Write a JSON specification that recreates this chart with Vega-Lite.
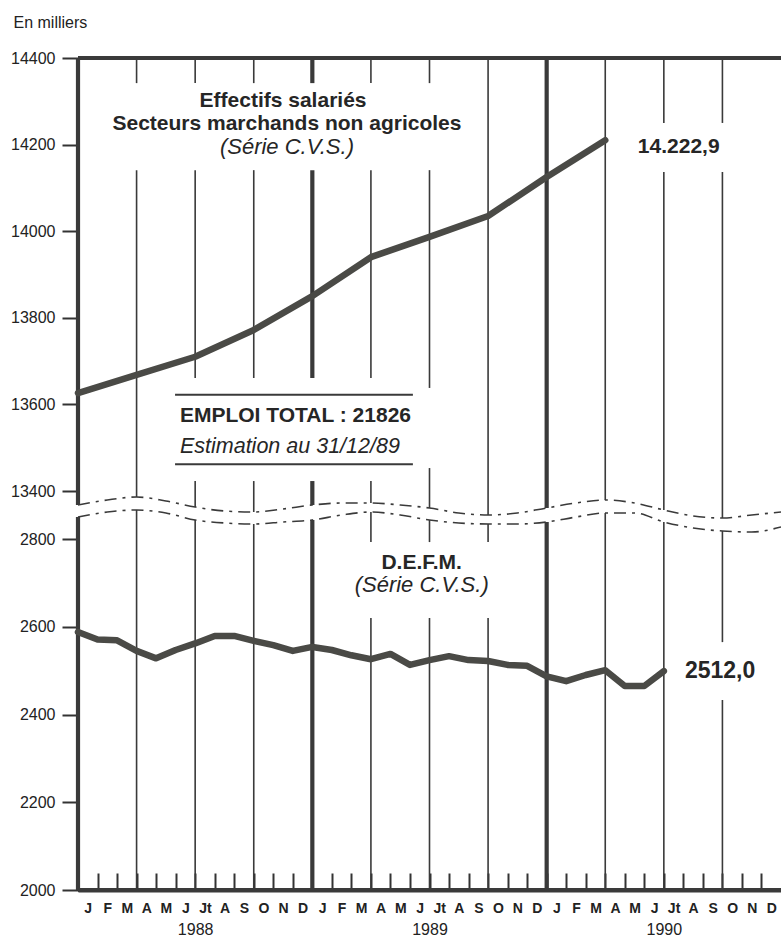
{
  "$schema": "https://vega.github.io/schema/vega-lite/v6.json",
  "width": 703,
  "height": 832,
  "autosize": {"type": "none"},
  "padding": {"left": 78, "top": 58, "right": 0, "bottom": 50},
  "background": "white",
  "config": {"view": {"stroke": null}, "font": "Liberation Sans"},
  "datasets": {
    "series": [
      {"s": "E", "m": 0, "v": 13626}, {"s": "E", "m": 3, "v": 13668}, {"s": "E", "m": 6, "v": 13710},
      {"s": "E", "m": 9, "v": 13772}, {"s": "E", "m": 12, "v": 13850}, {"s": "E", "m": 15, "v": 13940},
      {"s": "E", "m": 18, "v": 13987}, {"s": "E", "m": 21, "v": 14035}, {"s": "E", "m": 24, "v": 14125},
      {"s": "E", "m": 27, "v": 14210},
      {"s": "D", "m": 0, "v": 2588}, {"s": "D", "m": 1, "v": 2571}, {"s": "D", "m": 2, "v": 2569},
      {"s": "D", "m": 3, "v": 2545}, {"s": "D", "m": 4, "v": 2528}, {"s": "D", "m": 5, "v": 2547},
      {"s": "D", "m": 6, "v": 2562}, {"s": "D", "m": 7, "v": 2579}, {"s": "D", "m": 8, "v": 2579},
      {"s": "D", "m": 9, "v": 2568}, {"s": "D", "m": 10, "v": 2558}, {"s": "D", "m": 11, "v": 2545},
      {"s": "D", "m": 12, "v": 2554}, {"s": "D", "m": 13, "v": 2547}, {"s": "D", "m": 14, "v": 2535},
      {"s": "D", "m": 15, "v": 2526}, {"s": "D", "m": 16, "v": 2538}, {"s": "D", "m": 17, "v": 2513},
      {"s": "D", "m": 18, "v": 2524}, {"s": "D", "m": 19, "v": 2533}, {"s": "D", "m": 20, "v": 2524},
      {"s": "D", "m": 21, "v": 2522}, {"s": "D", "m": 22, "v": 2513}, {"s": "D", "m": 23, "v": 2511},
      {"s": "D", "m": 24, "v": 2487}, {"s": "D", "m": 25, "v": 2476}, {"s": "D", "m": 26, "v": 2490},
      {"s": "D", "m": 27, "v": 2501}, {"s": "D", "m": 28, "v": 2465}, {"s": "D", "m": 29, "v": 2465},
      {"s": "D", "m": 30, "v": 2499}
    ],
    "vlines": [
      {"m": 0, "v": 14400, "v2": 10308, "k": "y"}, {"m": 0, "v": 7658, "v2": 2000, "k": "y"},
      {"m": 3, "v": 14400, "v2": 14342, "k": "q"}, {"m": 3, "v": 14141, "v2": 12075, "k": "q"}, {"m": 3, "v": 9204, "v2": 2000, "k": "q"},
      {"m": 6, "v": 14400, "v2": 14342, "k": "q"}, {"m": 6, "v": 14141, "v2": 13661, "k": "q"}, {"m": 6, "v": 13423, "v2": 9867, "k": "q"}, {"m": 6, "v": 6996, "v2": 2000, "k": "q"},
      {"m": 9, "v": 14400, "v2": 14342, "k": "q"}, {"m": 9, "v": 14141, "v2": 13661, "k": "q"}, {"m": 9, "v": 13423, "v2": 8763, "k": "q"}, {"m": 9, "v": 6113, "v2": 2000, "k": "q"},
      {"m": 12, "v": 14400, "v2": 14342, "k": "y"}, {"m": 12, "v": 14141, "v2": 13661, "k": "y"}, {"m": 12, "v": 13423, "v2": 10308, "k": "y"}, {"m": 12, "v": 6996, "v2": 2000, "k": "y"},
      {"m": 15, "v": 14400, "v2": 14342, "k": "q"}, {"m": 15, "v": 14141, "v2": 13661, "k": "q"}, {"m": 15, "v": 13423, "v2": 10750, "k": "q"}, {"m": 15, "v": 8763, "v2": 2793, "k": "q"}, {"m": 15, "v": 2620, "v2": 2000, "k": "q"},
      {"m": 18, "v": 14400, "v2": 14342, "k": "q"}, {"m": 18, "v": 14141, "v2": 13638, "k": "q"}, {"m": 18, "v": 13453, "v2": 9646, "k": "q"}, {"m": 18, "v": 6996, "v2": 2793, "k": "q"}, {"m": 18, "v": 2620, "v2": 2000, "k": "q"},
      {"m": 21, "v": 14400, "v2": 8100, "k": "q"}, {"m": 21, "v": 6113, "v2": 2793, "k": "q"}, {"m": 21, "v": 2620, "v2": 2000, "k": "q"},
      {"m": 24, "v": 14400, "v2": 9646, "k": "y"}, {"m": 24, "v": 6554, "v2": 2000, "k": "y"},
      {"m": 27, "v": 14400, "v2": 11413, "k": "q"}, {"m": 27, "v": 8542, "v2": 2000, "k": "q"},
      {"m": 30, "v": 14400, "v2": 14250, "k": "q"}, {"m": 30, "v": 14137, "v2": 9204, "k": "q"}, {"m": 30, "v": 6554, "v2": 2000, "k": "q"},
      {"m": 33, "v": 14400, "v2": 14250, "k": "q"}, {"m": 33, "v": 14137, "v2": 7438, "k": "q"}, {"m": 33, "v": 4567, "v2": 2565, "k": "q"}, {"m": 33, "v": 2433, "v2": 2000, "k": "q"}
    ],
    "hrules": [
      {"v": 14400, "m": 0, "m2": 36, "k": "frame"}, {"v": 2000, "m": 0, "m2": 36, "k": "frame"},
      {"v": 13622, "m": 4.97, "m2": 17.15, "k": "box"}, {"v": 13462, "m": 4.97, "m2": 17.15, "k": "box"}
    ],
    "waves": [
      {"w": "u", "m": 0, "v": 10308}, {"w": "u", "m": 1.5, "v": 11413}, {"w": "u", "m": 3, "v": 12075}, {"w": "u", "m": 4.5, "v": 11192},
      {"w": "u", "m": 6, "v": 9867}, {"w": "u", "m": 7.5, "v": 8983}, {"w": "u", "m": 9, "v": 8763}, {"w": "u", "m": 10.5, "v": 9425},
      {"w": "u", "m": 12, "v": 10308}, {"w": "u", "m": 13.5, "v": 10750}, {"w": "u", "m": 15, "v": 10750}, {"w": "u", "m": 16.5, "v": 10308},
      {"w": "u", "m": 18, "v": 9646}, {"w": "u", "m": 19.5, "v": 8542}, {"w": "u", "m": 21, "v": 8100}, {"w": "u", "m": 22.5, "v": 8542},
      {"w": "u", "m": 24, "v": 9646}, {"w": "u", "m": 25.5, "v": 10750}, {"w": "u", "m": 27, "v": 11413}, {"w": "u", "m": 28.5, "v": 10750},
      {"w": "u", "m": 30, "v": 9204}, {"w": "u", "m": 31.5, "v": 7879}, {"w": "u", "m": 33, "v": 7438}, {"w": "u", "m": 34.5, "v": 8100},
      {"w": "u", "m": 36, "v": 8763},
      {"w": "l", "m": 0, "v": 7658}, {"w": "l", "m": 1.5, "v": 8763}, {"w": "l", "m": 3, "v": 9204}, {"w": "l", "m": 4.5, "v": 8542},
      {"w": "l", "m": 6, "v": 6996}, {"w": "l", "m": 7.5, "v": 6334}, {"w": "l", "m": 9, "v": 6113}, {"w": "l", "m": 10.5, "v": 6554},
      {"w": "l", "m": 12, "v": 6996}, {"w": "l", "m": 13.5, "v": 8100}, {"w": "l", "m": 15, "v": 8763}, {"w": "l", "m": 16.5, "v": 8100},
      {"w": "l", "m": 18, "v": 6996}, {"w": "l", "m": 19.5, "v": 6334}, {"w": "l", "m": 21, "v": 6113}, {"w": "l", "m": 22.5, "v": 6113},
      {"w": "l", "m": 24, "v": 6554}, {"w": "l", "m": 25.5, "v": 7658}, {"w": "l", "m": 27, "v": 8542}, {"w": "l", "m": 28.5, "v": 8542},
      {"w": "l", "m": 30, "v": 6554}, {"w": "l", "m": 31.5, "v": 5229}, {"w": "l", "m": 33, "v": 4567}, {"w": "l", "m": 34.5, "v": 4346},
      {"w": "l", "m": 36, "v": 5450}
    ],
    "labels": [
      {"k": "cb", "t": "Effectifs salariés", "m": 10.5, "v": 14287},
      {"k": "cb", "t": "Secteurs marchands non agricoles", "m": 10.7, "v": 14234},
      {"k": "ci", "t": "(Série C.V.S.)", "m": 10.7, "v": 14178},
      {"k": "lb", "t": "EMPLOI TOTAL : 21826", "m": 5.22, "v": 13560},
      {"k": "li", "t": "Estimation au 31/12/89", "m": 5.22, "v": 13488},
      {"k": "cb", "t": "D.E.F.M.", "m": 17.6, "v": 2731},
      {"k": "ci", "t": "(Série C.V.S.)", "m": 17.6, "v": 2679},
      {"k": "lb", "t": "14.222,9", "m": 28.67, "v": 14181},
      {"k": "lB", "t": "2512,0", "m": 31.08, "v": 2483}
    ]
  },
  "resolve": {"axis": {"x": "independent"}, "scale": {"strokeWidth": "independent"}},
  "encoding": {
    "x": {"field": "m", "type": "quantitative", "scale": {"domain": [0, 36], "nice": false, "zero": false}, "axis": null},
    "y": {"field": "v", "type": "quantitative",
      "scale": {"domain": [2000, 2800, 13400, 14400], "range": [832, 481, 433, 0], "nice": false, "zero": false},
      "axis": {"orient": "left", "values": [2000, 2200, 2400, 2600, 2800, 13400, 13600, 13800, 14000, 14200, 14400], "format": "d",
        "domain": false, "grid": false, "tickSize": 16, "tickWidth": 2, "tickColor": "#333",
        "labelFont": "Liberation Sans", "labelFontSize": 16, "labelColor": "#222", "labelPadding": 7, "labelOverlap": false,
        "title": "En milliers", "titleAngle": 0, "titleX": -65, "titleY": -31, "titleAlign": "left", "titleBaseline": "alphabetic",
        "titleFont": "Liberation Sans", "titleFontWeight": "normal", "titleFontSize": 16, "titleColor": "#222"}}
  },
  "layer": [
    {
      "data": {"name": "vlines"},
      "mark": {"type": "rule", "color": "#3a3a3a"},
      "encoding": {
        "x": {"field": "m", "type": "quantitative", "scale": {"domain": [0, 36], "nice": false, "zero": false},
          "axis": {"orient": "bottom", "values": [0,1,2,3,4,5,6,7,8,9,10,11,12,13,14,15,16,17,18,19,20,21,22,23,24,25,26,27,28,29,30,31,32,33,34,35],
            "labelExpr": "['J','F','M','A','M','J','Jt','A','S','O','N','D'][datum.value % 12]",
            "labelOffset": 9.76, "tickSize": -17, "tickWidth": 2, "tickColor": "#333",
            "domain": true, "domainWidth": 4, "domainColor": "#3a3a3a", "grid": false,
            "labelFont": "Liberation Sans", "labelFontWeight": "bold", "labelFontSize": 14, "labelColor": "#222",
            "labelPadding": 28, "labelFlush": false, "labelOverlap": false, "labelBound": false, "title": null}},
        "y2": {"field": "v2"},
        "strokeWidth": {"field": "k", "type": "nominal", "scale": {"domain": ["q", "y"], "range": [1.6, 4.2]}, "legend": null}
      }
    },
    {
      "data": {"name": "hrules"},
      "mark": {"type": "rule", "color": "#3a3a3a"},
      "encoding": {
        "x2": {"field": "m2"},
        "strokeWidth": {"field": "k", "type": "nominal", "scale": {"domain": ["box", "frame"], "range": [2, 4]}, "legend": null}
      }
    },
    {
      "data": {"name": "waves"},
      "mark": {"type": "line", "color": "#3a3a3a", "strokeWidth": 1.6, "strokeDash": [12, 6, 3, 6], "interpolate": "monotone"},
      "encoding": {
        "x": {"field": "m", "type": "quantitative",
          "axis": {"orient": "bottom", "values": [6, 18, 30], "labelExpr": "toString(1988 + floor(datum.value / 12))",
            "ticks": false, "domain": false, "grid": false, "labelFont": "Liberation Sans", "labelFontSize": 16, "labelColor": "#222",
            "labelPadding": 31, "labelFlush": false, "labelOverlap": false, "title": null}},
        "detail": {"field": "w"}
      }
    },
    {
      "data": {"name": "series"},
      "mark": {"type": "line", "color": "#4a4a46", "strokeWidth": 6.5, "strokeCap": "round", "strokeJoin": "round"},
      "encoding": {
        "detail": {"field": "s"}
      }
    },
    {
      "data": {"name": "labels"},
      "transform": [{"filter": "datum.k == 'cb'"}],
      "mark": {"type": "text", "font": "Liberation Sans", "fontWeight": "bold", "fontSize": 21, "align": "center", "baseline": "alphabetic", "color": "#262626"},
      "encoding": {"text": {"field": "t"}}
    },
    {
      "data": {"name": "labels"},
      "transform": [{"filter": "datum.k == 'ci'"}],
      "mark": {"type": "text", "font": "Liberation Sans", "fontStyle": "italic", "fontSize": 22, "align": "center", "baseline": "alphabetic", "color": "#262626"},
      "encoding": {"text": {"field": "t"}}
    },
    {
      "data": {"name": "labels"},
      "transform": [{"filter": "datum.k == 'lb'"}],
      "mark": {"type": "text", "font": "Liberation Sans", "fontWeight": "bold", "fontSize": 21, "align": "left", "baseline": "alphabetic", "color": "#262626"},
      "encoding": {"text": {"field": "t"}}
    },
    {
      "data": {"name": "labels"},
      "transform": [{"filter": "datum.k == 'lB'"}],
      "mark": {"type": "text", "font": "Liberation Sans", "fontWeight": "bold", "fontSize": 23, "align": "left", "baseline": "alphabetic", "color": "#262626"},
      "encoding": {"text": {"field": "t"}}
    },
    {
      "data": {"name": "labels"},
      "transform": [{"filter": "datum.k == 'li'"}],
      "mark": {"type": "text", "font": "Liberation Sans", "fontStyle": "italic", "fontSize": 21.5, "align": "left", "baseline": "alphabetic", "color": "#262626"},
      "encoding": {"text": {"field": "t"}}
    }
  ]
}
